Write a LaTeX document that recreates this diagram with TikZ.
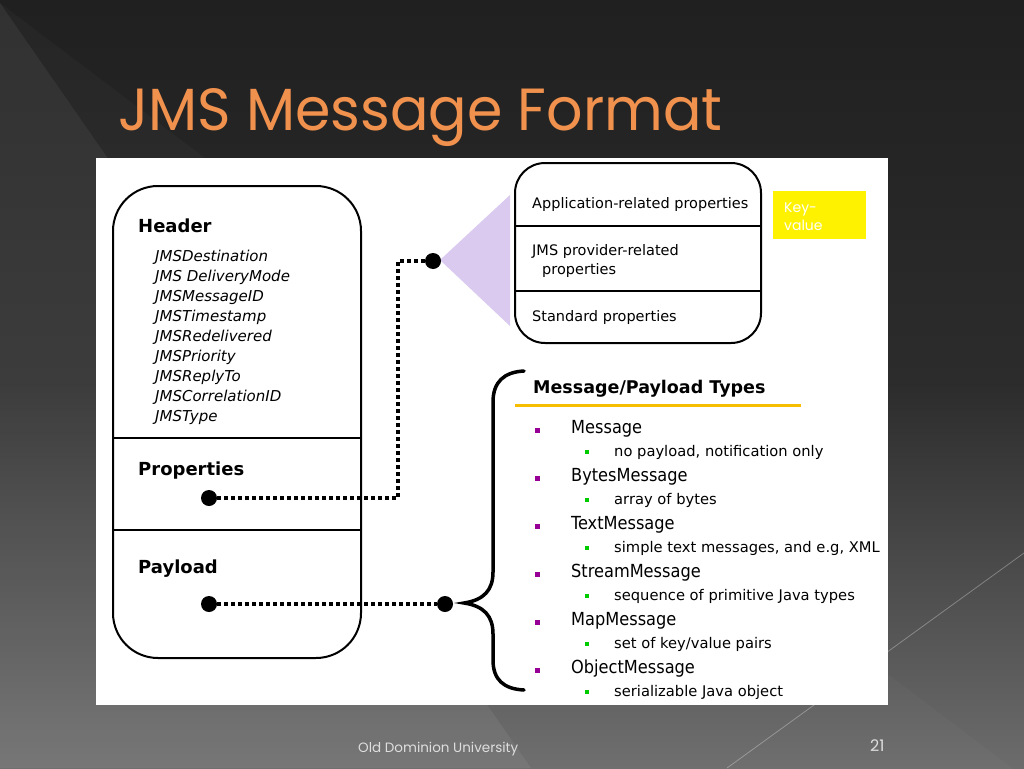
\documentclass[tikz,border=0pt]{standalone}
\usepackage{fontspec}
\setmainfont{DejaVu Sans}
\newfontfamily\popfont{Poppins}
\newfontfamily\condfont{DejaVu Sans Condensed}
\usetikzlibrary{calc}
\definecolor{titleorange}{RGB}{241,145,78}
\definecolor{bgtop}{RGB}{32,32,32}
\definecolor{bgmid}{RGB}{44,44,44}
\definecolor{bgbot}{RGB}{108,108,108}
\definecolor{lavender}{RGB}{218,202,240}
\definecolor{goldline}{RGB}{247,190,0}
\definecolor{bulpurple}{RGB}{150,0,150}
\definecolor{bulgreen}{RGB}{0,204,0}
\definecolor{footgray}{RGB}{222,222,222}
\begin{document}
\begin{tikzpicture}[x=1pt,y=-1pt,
  box/.style={draw=black, line width=2pt},
  divider/.style={draw=black, line width=2pt},
  dotline/.style={line width=3.5pt, dash pattern=on 3.5pt off 3.5pt},
  bigdot/.style={circle, fill=black, inner sep=0pt, minimum size=16pt},
  txt/.style={anchor=base west, inner sep=0pt},
  hd/.style={txt, font=\fontsize{18}{20}\selectfont\bfseries},
  hitem/.style={txt, font=\fontsize{15}{18}\selectfont\itshape},
  prop/.style={txt, font=\fontsize{14.5}{17}\selectfont},
  mainitem/.style={txt, font=\condfont\fontsize{18}{20}\selectfont},
  subitem/.style={txt, font=\fontsize{14.7}{17}\selectfont},
  pbul/.style={fill=bulpurple, inner sep=0pt, minimum size=5pt},
  gbul/.style={fill=bulgreen, inner sep=0pt, minimum size=4.5pt},
  bracestyle/.style={draw=black, line width=3.5pt, line cap=round}
]
\useasboundingbox (0,0) rectangle (1024,768);
% background
\shade[top color=bgtop, bottom color=bgbot, middle color=bgmid] (0,0) rectangle (1024,768);
\fill[white, opacity=0.06] (0,3) -- (531,768) -- (0,768) -- cycle;
\fill[white, opacity=0.025] (0,3) -- (1024,777) -- (0,777) -- cycle;
\draw[white, opacity=0.3, line width=0.8pt] (1024,553) -- (727,768);

% title
\node[anchor=base west, inner sep=0pt, text=titleorange] (title) at (118,130)
  {\resizebox{604pt}{42pt}{\popfont JMS Message Format}};

% white panel
\fill[white] (96,158) rectangle (888,705);

% left box
\draw[box, rounded corners=45pt] (113,186) rectangle (361,658);
\draw[divider] (113,438) -- (361,438);
\draw[divider] (113,530) -- (361,530);
\node[hd] (header) at (138,232) {Header};
\node[hitem] (h1) at (155,261) {JMSDestination};
\node[hitem] (h2) at (155,281) {JMS DeliveryMode};
\node[hitem] (h3) at (155,301) {JMSMessageID};
\node[hitem] (h4) at (155,321) {JMSTimestamp};
\node[hitem] (h5) at (155,341) {JMSRedelivered};
\node[hitem] (h6) at (155,361) {JMSPriority};
\node[hitem] (h7) at (155,381) {JMSReplyTo};
\node[hitem] (h8) at (155,401) {JMSCorrelationID};
\node[hitem] (h9) at (155,421) {JMSType};
\node[hd] (props) at (138,475) {Properties};
\node[hd] (payload) at (138,573) {Payload};

% lavender triangle
\fill[lavender] (440,260) -- (510,195) -- (510,326) -- cycle;

% right box
\draw[box, rounded corners=30pt] (515,163) rectangle (761,343);
\draw[divider] (515,226) -- (761,226);
\draw[divider] (515,291) -- (761,291);
\node[prop] (app) at (532,208) {Application-related properties};
\node[prop] (jmsp1) at (532,255) {JMS provider-related};
\node[prop] (jmsp2) at (542,274) {properties};
\node[prop] (std) at (532,321) {Standard properties};

% key-value box
\node[fill=yellow, minimum width=93pt, minimum height=48pt, inner sep=0pt, anchor=north west] (kv) at (773,191) {};
\node[txt, text=white, font=\popfont\fontsize{14}{16}\selectfont] (kv1) at (784,212) {Key-};
\node[txt, text=white, font=\popfont\fontsize{14}{16}\selectfont] (kv2) at (784,230) {value};

% connectors
\coordinate (bend) at (398,261);
\node[bigdot] (propdot) at (209,498) {};
\node[bigdot] (tridot) at (433,261) {};
\node[bigdot] (paydot) at (209,604) {};
\node[bigdot] (bracedot) at (445,604) {};
\draw[dotline] (propdot.east) -| (bend) -- (tridot.west);
\draw[dotline] (paydot.east) -- (bracedot.west);

% brace
\draw[bracestyle] (524,371) .. controls (504,372) and (493,382) .. (493,402) -- (493,572)
  .. controls (493,590) and (484,600) .. (464,603)
  .. controls (484,606) and (493,616) .. (493,634) -- (493,660)
  .. controls (493,680) and (504,689) .. (524,690);

% payload types
\node[txt, font=\fontsize{17.5}{20}\selectfont\bfseries] (mpt) at (533,393) {Message/Payload Types};
\draw[goldline, line width=3pt] (515,405) -- (801,405);

\node[pbul] (b1) at (537,430) {};
\node[mainitem] (m1) at (571,433) {Message};
\node[gbul] (g1) at (587,452) {};
\node[subitem] (s1) at (614,456) {no payload, notification only};

\node[pbul] (b2) at (537,478) {};
\node[mainitem] (m2) at (571,481) {BytesMessage};
\node[gbul] (g2) at (587,500) {};
\node[subitem] (s2) at (614,504) {array of bytes};

\node[pbul] (b3) at (537,526) {};
\node[mainitem] (m3) at (571,529) {TextMessage};
\node[gbul] (g3) at (587,548) {};
\node[subitem] (s3) at (614,552) {simple text messages, and e.g, XML};

\node[pbul] (b4) at (537,574) {};
\node[mainitem] (m4) at (571,577) {StreamMessage};
\node[gbul] (g4) at (587,596) {};
\node[subitem] (s4) at (614,600) {sequence of primitive Java types};

\node[pbul] (b5) at (537,622) {};
\node[mainitem] (m5) at (571,625) {MapMessage};
\node[gbul] (g5) at (587,644) {};
\node[subitem] (s5) at (614,648) {set of key/value pairs};

\node[pbul] (b6) at (537,670) {};
\node[mainitem] (m6) at (571,673) {ObjectMessage};
\node[gbul] (g6) at (587,692) {};
\node[subitem] (s6) at (614,696) {serializable Java object};

% footer
\node[txt, text=footgray] (foot) at (358,752) {\resizebox{160pt}{!}{\popfont Old Dominion University}};
\node[txt, text=footgray, font=\popfont\fontsize{16}{18}\selectfont] (pnum) at (870,751) {21};
\end{tikzpicture}
\end{document}
